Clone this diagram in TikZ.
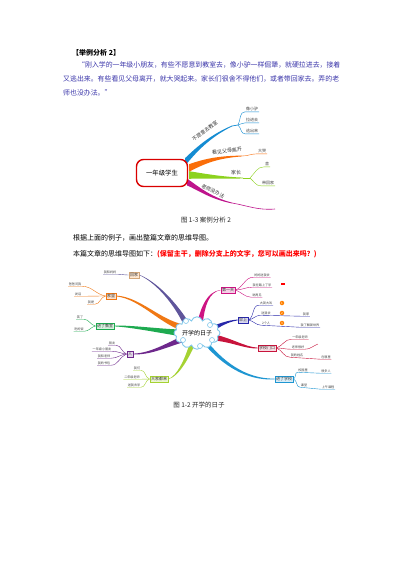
\documentclass[tikz,border=0pt]{standalone}
\usepackage{fontspec}
\setmainfont{Noto Sans CJK SC}
\usetikzlibrary{calc,shapes.symbols}
\newcommand{\fsz}[1]{\fontsize{#1}{#1}\selectfont}
\newcommand{\tapery}[6]{\fill[#1] ($(#2)+(0,#6)$) .. controls ($(#3)+(0,#6*0.6)$) and ($(#4)+(0,#6*0.3)$) .. ($(#5)+(0,0.4)$) -- ($(#5)+(0,-0.4)$) .. controls ($(#4)+(0,-#6*0.3)$) and ($(#3)+(0,-#6*0.6)$) .. ($(#2)+(0,-#6)$) -- cycle;}
\newcommand{\taperx}[6]{\fill[#1] ($(#2)+(#6,0)$) .. controls ($(#3)+(#6*0.6,0)$) and ($(#4)+(#6*0.3,0)$) .. ($(#5)+(0.4,0)$) -- ($(#5)+(-0.4,0)$) .. controls ($(#4)+(-#6*0.3,0)$) and ($(#3)+(-#6*0.6,0)$) .. ($(#2)+(-#6,0)$) -- cycle;}
\definecolor{para}{RGB}{60,55,170}
\definecolor{cblue}{RGB}{20,140,210}
\definecolor{corange}{RGB}{250,110,10}
\definecolor{cgreen}{RGB}{140,210,30}
\definecolor{cmag}{RGB}{190,20,140}
\definecolor{cslate}{RGB}{95,85,155}
\definecolor{corg2}{RGB}{240,120,20}
\definecolor{cgrn2}{RGB}{30,170,80}
\definecolor{cpur}{RGB}{110,40,140}
\definecolor{cyg}{RGB}{165,210,50}
\definecolor{cmag2}{RGB}{205,20,130}
\definecolor{cnavy}{RGB}{40,40,170}
\definecolor{ccrim}{RGB}{200,20,60}
\definecolor{ccyan}{RGB}{30,150,210}
\definecolor{cloudc}{RGB}{130,200,235}
\definecolor{capc}{RGB}{40,40,40}
\tikzset{
 txt/.style={anchor=west, inner sep=0pt},
 sub1/.style={font=\fsz{4}, inner sep=0.8pt, text=black!75},
 sub2/.style={font=\fsz{3.1}, inner sep=0.6pt, text=black!75},
 blab/.style={font=\fsz{5}, inner sep=0.3pt, text=black!80},
 mbox/.style={font=\fsz{4}, inner sep=1.3pt, line width=0.4pt, text=black!80},
 bub/.style={circle, draw=cloudc, fill=white, line width=0.6pt, minimum size=5pt, inner sep=0pt},
 badge/.style={circle, fill=orange, text=white, font=\fsz{3}, inner sep=0.3pt, minimum size=4.5pt},
 thinl/.style={line width=0.4pt},
}
\begin{document}
\begin{tikzpicture}[x=1pt,y=-1pt]
\useasboundingbox (0,0) rectangle (400,566);
\fill[white] (0,0) rectangle (400,566);

% ---------- text block ----------
\node[txt, font=\fsz{7}\bfseries] (head) at (72,53) {【举例分析 2】};
\node[txt, font=\fsz{6.9}, text=para] (p1) at (78,65) {“刚入学的一年级小朋友，有些不愿意到教室去，像小驴一样倔犟，就硬拉进去，接着};
\node[txt, font=\fsz{6.9}, text=para] (p2) at (63,79) {又逃出来。有些看见父母离开，就大哭起来。家长们很舍不得他们，或者带回家去。弄的老};
\node[txt, font=\fsz{6.9}, text=para] (p3) at (63,93) {师也没办法。”};

% ---------- mind map 1 ----------
\coordinate (ba) at (185,162);
\coordinate (bb) at (232,126);
\tapery{cblue}{ba}{196,150}{210,136}{bb}{3.8}
\coordinate (oa) at (189,168);
\coordinate (ob) at (242,156);
\tapery{corange}{oa}{205,161}{218,157}{ob}{3.8}
\coordinate (ga) at (189,175);
\coordinate (gb) at (243,178);
\tapery{cgreen}{ga}{205,176}{222,178}{gb}{3.8}
\coordinate (ma) at (187,182);
\coordinate (mb) at (232,203);
\tapery{cmag}{ma}{198,188}{210,198}{mb}{3.4}

\node[draw=red!85!black, rounded corners=7pt, line width=1.4pt, fill=white, minimum width=51pt, minimum height=27pt, font=\fsz{6.4}] (m1) at (162,173) {一年级学生};

\node[blab, rotate=36] (lb) at (205,131) {不愿意去教室};
\coordinate (bf) at (238,125);
\draw[cblue, line width=0.7pt] (bb) -- (bf);
\node[sub1] (b11) at (252,109) {像小驴};
\node[sub1] (b12) at (252,120) {拉进去};
\node[sub1] (b13) at (252,131) {逃出来};
\draw[cblue, thinl] (bf) to[out=60,in=180] (b11.south west) -- (b11.south east);
\draw[cblue, thinl] (bf) to[out=10,in=180] (b12.south west) -- (b12.south east);
\draw[cblue, thinl] (bf) to[out=-40,in=180] (b13.south west) -- (b13.south east);

\node[blab, rotate=8] (lo) at (227,151) {看见父母离开};
\node[sub1] (o11) at (262,151) {大哭};
\draw[corange, thinl] (ob) to[out=0,in=180] (o11.south west) -- (o11.south east);

\node[blab] (lg) at (236,173) {家长};
\coordinate (gf) at (250,178);
\draw[cgreen, line width=0.6pt] (gb) -- (gf);
\node[sub1] (g11) at (267,164) {舍};
\node[sub1] (g12) at (268,183) {带回家};
\draw[cgreen, thinl] (gf) to[out=45,in=180] (g11.south west) -- (g11.south east);
\draw[cgreen, thinl] (gf) to[out=-40,in=180] (g12.south west) -- (g12.south east);

\node[blab, rotate=-27] (lm) at (213,191) {老师没办法};
\coordinate (me) at (275,209);
\draw[cmag, line width=0.6pt] (mb) to[out=-10,in=185] (me);

\node[font=\fsz{6.5}, text=capc, inner sep=0pt] (cap1) at (206,220) {图 1-3 案例分析 2};

% ---------- instructions ----------
\node[txt, font=\fsz{7}] (q1) at (73,238) {根据上面的例子，画出整篇文章的思维导图。};
\node[txt, font=\fsz{7}] (q2) at (73,254) {本篇文章的思维导图如下：\textcolor{red}{\bfseries (保留主干，删除分支上的文字，您可以画出来吗？)}};

% ---------- mind map 2 ----------
\node[mbox, draw=brown!70, fill=orange!18] (b1) at (134,275) {回家};
\node[mbox, draw=corg2, fill=corg2!22] (b2) at (111,296) {家里};
\node[mbox, draw=cgrn2, fill=cgrn2!18] (b3) at (105,326) {进了教室};
\node[mbox, draw=cpur, fill=cpur!20] (b4) at (130,354) {人};
\node[mbox, draw=cyg, fill=cyg!22] (b5) at (159,379) {大家都来};
\node[mbox, draw=cmag2, fill=cmag2!20] (b6) at (228,290) {第一天};
\node[mbox, draw=cnavy, fill=cnavy!18] (b7) at (243,320) {早上};
\node[mbox, draw=ccrim, fill=ccrim!15] (b8) at (267,348) {学校门口};
\node[mbox, draw=ccyan, fill=ccyan!18] (b9) at (284,379) {进了学校};

\coordinate (r1) at (186,323);
\coordinate (r2) at (184,328);
\coordinate (r3) at (182,333);
\coordinate (r4) at (183,339);
\coordinate (r5) at (192,345);
\coordinate (r6) at (200,323);
\coordinate (r7) at (212,329);
\coordinate (r8) at (212,337);
\coordinate (r9) at (206,343);

\taperx{cslate}{r1}{176,305}{158,283}{b1.east}{3.2}
\tapery{corg2}{r2}{160,322}{140,298}{b2.east}{3.4}
\tapery{cgrn2}{r3}{160,331}{130,326}{b3.east}{3.4}
\tapery{cpur}{r4}{165,346}{150,354}{b4.east}{3.2}
\taperx{cyg}{r5}{186,360}{178,376}{b5.east}{2.8}
\taperx{cmag2}{r6}{203,306}{208,292}{b6.west}{2.8}
\tapery{cnavy}{r7}{220,325}{228,321}{b7.west}{2.8}
\tapery{ccrim}{r8}{232,340}{245,348}{b8.west}{3.2}
\tapery{ccyan}{r9}{222,362}{245,380}{b9.west}{3.0}

\node[cloud, cloud puffs=12, aspect=1.7, draw=cloudc, line width=0.9pt, fill=white, minimum width=42pt, minimum height=26pt, inner sep=0pt, font=\fsz{6}] (c2) at (197,333) {开学的日子};
\node[bub] (u1) at (186,321) {};
\node[bub] (u2) at (210,325) {};
\node[bub] (u3) at (212,340) {};
\node[bub] (u4) at (183,340) {};
\node[bub] (u5) at (200,346) {};

\node[sub2] (s11) at (110,272) {我和妈妈};
\draw[cslate, thinl] (b1.west) to[out=180,in=0] (s11.south east) -- (s11.south west);

\node[sub2] (s21) at (75,284) {爸爸问我};
\node[sub2] (s22) at (78,294) {说话};
\node[sub2] (s23) at (91,302) {我是};
\draw[corg2, thinl] (b2.west) to[out=170,in=0] (s21.south east) -- (s21.south west);
\draw[corg2, thinl] (b2.west) to[out=180,in=0] (s22.south east) -- (s22.south west);
\draw[corg2, thinl] (b2.west) to[out=190,in=0] (s23.south east) -- (s23.south west);

\node[sub2] (s31) at (80,317) {笑了};
\node[sub2] (s32) at (79,329) {吃的饭};
\draw[cgrn2, thinl] (b3.west) to[out=170,in=0] (s31.south east) -- (s31.south west);
\draw[cgrn2, thinl] (b3.west) to[out=190,in=0] (s32.south east) -- (s32.south west);

\node[sub2] (s41) at (112,343) {朋友};
\node[sub2] (s42) at (102,349) {一年级小朋友};
\node[sub2] (s43) at (104,356) {我和老师};
\node[sub2] (s44) at (104,363) {我的书包};
\draw[cpur, thinl] (b4.west) to[out=160,in=0] (s41.south east) -- (s41.south west);
\draw[cpur, thinl] (b4.west) to[out=175,in=0] (s42.south east) -- (s42.south west);
\draw[cpur, thinl] (b4.west) to[out=185,in=0] (s43.south east) -- (s43.south west);
\draw[cpur, thinl] (b4.west) to[out=200,in=0] (s44.south east) -- (s44.south west);

\node[sub2] (s51) at (137,368) {我们};
\node[sub2] (s52) at (132,377) {二年级老师};
\node[sub2] (s53) at (134,385) {送我去学};
\draw[cyg, thinl] (b5.west) to[out=165,in=0] (s51.south east) -- (s51.south west);
\draw[cyg, thinl] (b5.west) to[out=180,in=0] (s52.south east) -- (s52.south west);
\draw[cyg, thinl] (b5.west) to[out=195,in=0] (s53.south east) -- (s53.south west);

\node[sub2] (t11) at (262,275) {妈妈送我去};
\node[sub2] (t12) at (262,285) {我在路上了学};
\node[sub2] (t13) at (257,295) {说再见};
\draw[cmag2, thinl] (b6.east) to[out=20,in=180] (t11.south west) -- (t11.south east);
\draw[cmag2, thinl] (b6.east) to[out=0,in=180] (t12.south west) -- (t12.south east);
\draw[cmag2, thinl] (b6.east) to[out=-20,in=180] (t13.south west) -- (t13.south east);
\node[fill=red, minimum width=4pt, minimum height=2.5pt, inner sep=0pt] (flag) at (283,284) {};

\node[sub2] (t21) at (266,303) {大哭大叫};
\node[sub2] (t22) at (266,313) {送我去};
\node[sub2] (t23) at (266,323) {2个人};
\node[badge] (g1) at (282,303) {1};
\node[badge] (g2) at (282,313) {2};
\node[badge] (g3) at (282,323) {3};
\node[sub2] (t24) at (306,314) {我家};
\node[sub2] (t25) at (310,325) {我了解新世界};
\draw[cnavy, thinl] (b7.east) to[out=30,in=180] (t21.south west) -- (t21.south east);
\draw[cnavy, thinl] (b7.east) to[out=10,in=180] (t22.south west) -- (t24.south west) -- (t24.south east);
\draw[cnavy, thinl] (b7.east) to[out=-10,in=180] (t23.south west) -- (t25.south west) -- (t25.south east);

\node[sub2] (t31) at (300,337) {一年级老师};
\node[sub2] (t32) at (298,347) {老师很好};
\node[sub2] (t33) at (297,355) {我的姓名};
\node[sub2] (t34) at (326,357) {在哪里};
\coordinate (t35) at (318,344);
\draw[ccrim, thinl] (b8.east) to[out=20,in=180] (t31.south west) -- (t31.south east);
\draw[ccrim, thinl] (b8.east) to[out=0,in=180] (t32.south west) -- (t32.south east) to[out=0,in=200] (t35);
\draw[ccrim, thinl] (b8.east) to[out=-20,in=180] (t33.south west) -- (t34.south west) -- (t34.south east);

\node[sub2] (t41) at (303,370) {校园里};
\node[sub2] (t42) at (326,371) {很多人};
\node[sub2] (t43) at (304,385) {课堂};
\node[sub2] (t44) at (328,387) {上午课程};
\draw[ccyan, thinl] (b9.east) to[out=20,in=180] (t41.south west) -- (t42.south west) -- (t42.south east);
\draw[ccyan, thinl] (b9.east) to[out=-20,in=180] (t43.south west) -- (t44.south west) -- (t44.south east);

\node[font=\fsz{6.5}, text=capc, inner sep=0pt] (cap2) at (199,405) {图 1-2 开学的日子};
\end{tikzpicture}
\end{document}
